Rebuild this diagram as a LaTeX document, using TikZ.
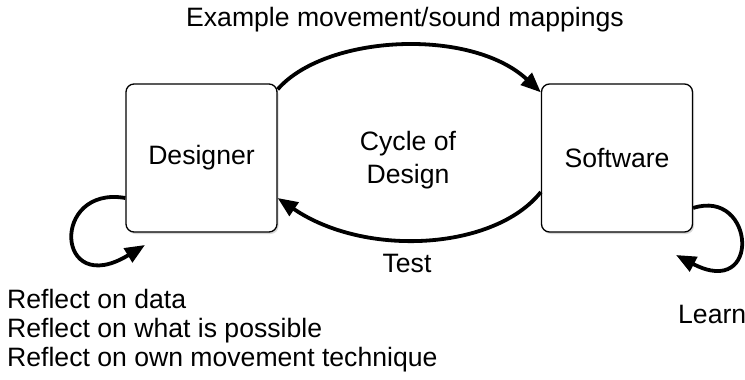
\documentclass[tikz,border=0pt]{standalone}
\usepackage{fontspec}
\setmainfont{Liberation Sans}
\usetikzlibrary{arrows.meta,shadows}

\begin{document}
\begin{tikzpicture}[x=1pt,y=-1pt,
	box/.style={draw,rounded corners=8pt,line width=1.3pt,fill=white,
		minimum width=151pt,minimum height=148pt,
		drop shadow={shadow xshift=1.5pt,shadow yshift=-2pt,opacity=0.3}},
	flow/.style={line width=3.8pt,-{Triangle[length=20pt,width=16pt]}},
	txt/.style={font=\fontsize{26.6}{29}\selectfont,inner sep=0pt}]

	% Page size, in pixels of the sketch:
	\useasboundingbox (0,0) rectangle (745,380);

	% The two boxes:
	\node [box,txt] (designer) at (201.5,158) {Designer};
	\node [box,txt] (software) at (617,158) {Software};

	% Loose ends of the two loops:
	\coordinate (dtip) at (145,245);
	\coordinate (stip) at (676,255);

	% The cycle between the boxes:
	\draw [flow] ([yshift=-6pt]designer.north east)
		.. controls +(48,-55) and +(-70,-65) .. ([yshift=-9pt]software.north west);
	\draw [flow] ([yshift=-34pt]software.west)
		.. controls +(-46,58) and +(88,60) .. ([yshift=-40pt]designer.east);

	% The loops on each side:
	\draw [flow] ([yshift=-40pt]designer.west)
		.. controls +(-75,-13) and +(-90,55) .. (dtip);
	\draw [flow] ([yshift=-50pt]software.east)
		.. controls +(62,-20) and +(86,45) .. (stip);

	% Labels:
	\node [txt,anchor=base] (mappings) at (405,27) {Example movement/sound mappings};
	\node [txt,align=center,font=\fontsize{26.6}{33}\selectfont] (cycle) at (408,160) {Cycle of\\Design};
	\node [txt,anchor=base] (test) at (407,272) {Test};
	\node [txt,anchor=base west] (learn) at (678,323) {Learn};
	\node [txt,align=left,anchor=north west] (reflect) at (7,289)
		{Reflect on data\\Reflect on what is possible\\Reflect on own movement technique};
\end{tikzpicture}
\end{document}
